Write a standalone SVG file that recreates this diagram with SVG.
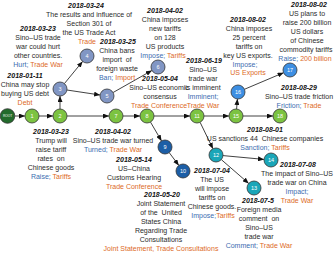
<svg xmlns="http://www.w3.org/2000/svg" width="334" height="254" viewBox="0 0 334 254">
<style>
text{font-family:"Liberation Sans",Arial,Helvetica,sans-serif;font-size:7px;fill:#2b2b2b;text-anchor:middle}
.d{font-weight:bold;font-style:italic;fill:#111}
.k{fill:#3d6db0}
.o{fill:#dd6a1f}
.n{font-size:5.5px;fill:#fff}
.r{font-size:3.2px;fill:#fff}
circle{stroke:#333;stroke-width:0.8}
.g{fill:#7cc341}
.s{fill:#8196c4}
.b{fill:#1c5ea6}
.c{fill:#1aa6b8}
.l{fill:#3d8fe3}
.e line{stroke:#111;stroke-width:0.8;marker-end:url(#ah)}
</style>
<defs>
<marker id="ah" markerUnits="userSpaceOnUse" markerWidth="6" markerHeight="5" refX="6" refY="2.5" orient="auto"><path d="M0,0 L6,2.5 L0,5 Z" fill="#111"/></marker>
</defs>
<g class="e" id="connectors">
<line x1="15" y1="116" x2="25" y2="116"/>
<line x1="39" y1="116" x2="53" y2="116"/>
<line x1="60" y1="109" x2="60" y2="96"/>
<line x1="67" y1="116" x2="109" y2="116"/>
<line x1="64.4" y1="83.6" x2="82.6" y2="61.4"/>
<line x1="66.9" y1="90" x2="100.1" y2="95"/>
<line x1="113.1" y1="92.5" x2="151.9" y2="70.5"/>
<line x1="123" y1="116" x2="140" y2="116"/>
<line x1="150.5" y1="122.1" x2="161.5" y2="140.9"/>
<line x1="169.2" y1="152.6" x2="178.8" y2="165.4"/>
<line x1="154" y1="116" x2="190" y2="116"/>
<line x1="200.1" y1="122.3" x2="212.9" y2="148.7"/>
<line x1="204" y1="116" x2="229" y2="116"/>
<line x1="223" y1="155.6" x2="264" y2="159.4"/>
<line x1="221.3" y1="159.6" x2="248.7" y2="183.4"/>
<line x1="236.6" y1="109" x2="237.4" y2="99"/>
<line x1="243" y1="116" x2="273" y2="116"/>
<line x1="244.4" y1="89.3" x2="283.6" y2="72.7"/>
</g>
<g id="root"><circle cx="7.5" cy="116" r="7.3" fill="#236b2c"/><text class="r" x="7.5" y="117.2">ROOT</text></g>
<g id="n1"><circle class="g" cx="32" cy="116" r="7"/><text class="n" x="32" y="118">1</text>
<text class="d" x="25" y="78">2018-01-11</text><text x="25" y="87">China may stop</text><text x="25" y="96">buying US debt</text><text class="o" x="25" y="105">Debt</text></g>
<g id="n2"><circle class="g" cx="60" cy="116" r="7"/><text class="n" x="60" y="118">2</text>
<text class="d" x="51" y="133.5">2018-03-23</text><text x="51" y="142.5">Trump will</text><text x="51" y="151.5">raise tariff</text><text x="51" y="160.5" xml:space="preserve">rates  on</text><text x="51" y="169.5">Chinese goods</text><text x="51" y="178.5"><tspan class="k">Raise;</tspan> <tspan class="o">Tariffs</tspan></text></g>
<g id="n3"><circle class="s" cx="60" cy="89" r="7"/><text class="n" x="60" y="91">3</text>
<text class="d" x="38" y="30.5">2018-03-23</text><text x="38" y="39.5">Sino–US trade</text><text x="38" y="48.5">war could hurt</text><text x="38" y="57.5">other countries.</text><text x="38" y="66.5"><tspan class="k">Hurt;</tspan> <tspan class="o">Trade War</tspan></text></g>
<g id="n4"><circle class="s" cx="87" cy="56" r="7"/><text class="n" x="87" y="58">4</text>
<text class="d" x="86" y="7.5">2018-03-24</text><text x="89" y="16.5">The results and influence of</text><text x="89" y="25.5">Section 301 of</text><text x="89" y="34.5">the US Trade Act</text><text class="o" x="87" y="43.5">Trade</text></g>
<g id="n5"><circle class="s" cx="107" cy="96" r="7"/><text class="n" x="107" y="98">5</text>
<text class="d" x="118" y="44">2018-03-25</text><text x="117" y="53">China bans</text><text x="117" y="62" xml:space="preserve">import  of</text><text x="117" y="71">foreign waste</text><text x="117" y="80"><tspan class="k">Ban;</tspan> <tspan class="o">Import</tspan></text></g>
<g id="n6"><circle class="s" cx="158" cy="67" r="7"/><text class="n" x="158" y="69">6</text>
<text class="d" x="165" y="12.5">2018-04-02</text><text x="165" y="21.5">China imposes</text><text x="165" y="30.5">new tariffs</text><text x="165" y="39.5">on 128</text><text x="165" y="48.5">US products</text><text x="163" y="57.5"><tspan class="k">Impose;</tspan> <tspan class="o">Tariffs</tspan></text></g>
<g id="n7"><circle class="g" cx="116" cy="116" r="7"/><text class="n" x="116" y="118">7</text>
<text class="d" x="113" y="133.5">2018-04-02</text><text x="113" y="142.5">Sino–US trade war turned</text><text x="113" y="151.5"><tspan class="k">Turned;</tspan> <tspan class="o">Trade War</tspan></text></g>
<g id="n8"><circle class="g" cx="147" cy="116" r="7"/><text class="n" x="147" y="118">8</text>
<text class="d" x="160" y="81">2018-05-04</text><text x="159" y="90">Sino–US economic</text><text x="160" y="99">consensus</text><text class="o" x="159" y="108">Trade Conference</text></g>
<g id="n9"><circle class="b" cx="165" cy="147" r="7"/><text class="n" x="165" y="149">9</text>
<text class="d" x="134" y="161.5">2018-05-14</text><text x="134" y="170.5">US–China</text><text x="134" y="179.5">Customs Hearing</text><text class="o" x="134" y="188.5">Trade Conference</text></g>
<g id="n10"><circle class="b" cx="183" cy="171" r="7"/><text class="n" x="183" y="173">10</text>
<text class="d" x="162" y="196.5">2018-05-20</text><text x="161" y="205.5">Joint Statement</text><text x="161" y="214.5" xml:space="preserve">of the  United</text><text x="161" y="223.5">States China</text><text x="161" y="232.5">Regarding Trade</text><text x="161" y="241.5">Consultations</text><text class="o" x="161" y="250.5">Joint Statement, Trade Consultations</text></g>
<g id="n11"><circle class="g" cx="197" cy="116" r="7"/><text class="n" x="197" y="118">11</text>
<text class="d" x="204" y="62.5">2018-06-19</text><text x="203" y="71.5">Sino–US</text><text x="203" y="80.5">trade war</text><text x="203" y="89.5">is imminent</text><text class="k" x="203" y="98.5">Imminent;</text><text class="o" x="203" y="107.5">Trade War</text></g>
<g id="n12"><circle class="c" cx="216" cy="155" r="7"/><text class="n" x="216" y="157">12</text>
<text class="d" x="212" y="172.5">2018-07-04</text><text x="212" y="181.5">The US</text><text x="212" y="190.5">will impose</text><text x="212" y="199.5">tariffs on</text><text x="212" y="208.5">Chinese goods.</text><text x="213" y="217.5"><tspan class="k">Impose;</tspan><tspan class="o">Tariffs</tspan></text></g>
<g id="n13"><circle class="c" cx="254" cy="188" r="7"/><text class="n" x="254" y="190">13</text>
<text class="d" x="258" y="202.5">2018-07-5</text><text x="259" y="211.5">Foreign media</text><text x="259" y="220.5" xml:space="preserve">comment  on</text><text x="259" y="229.5">Sino–US</text><text x="259" y="238.5">trade war</text><text x="259" y="247.5"><tspan class="k">Comment;</tspan> <tspan class="o">Trade War</tspan></text></g>
<g id="n14"><circle class="c" cx="271" cy="160" r="7"/><text class="n" x="271" y="162">14</text>
<text class="d" x="298" y="166.5">2018-07-08</text><text x="297" y="175.5">The impact of Sino–US</text><text x="297" y="184.5">trade war on China</text><text class="k" x="297" y="193.5">Impact;</text><text class="o" x="297" y="202.5">Trade War</text></g>
<g id="n15"><circle class="g" cx="236" cy="116" r="7"/><text class="n" x="236" y="118">15</text>
<text class="d" x="265" y="131.5">2018-08-01</text><text x="265" y="140.5" xml:space="preserve">US sanctions 44  Chinese companies</text><text x="265" y="149.5"><tspan class="k">Sanction;</tspan> <tspan class="o">Tariffs</tspan></text></g>
<g id="n16"><circle class="l" cx="238" cy="92" r="7"/><text class="n" x="238" y="94">16</text>
<text class="d" x="248" y="21.5">2018-08-02</text><text x="249" y="30.5">China imposes</text><text x="249" y="39.5">25 percent</text><text x="249" y="48.5">tariffs on</text><text x="248" y="57.5">key US exports.</text><text class="k" x="245" y="66.5">Impose;</text><text class="o" x="248" y="75">US Exports</text></g>
<g id="n17"><circle class="l" cx="290" cy="70" r="7"/><text class="n" x="290" y="72">17</text>
<text class="d" x="309" y="7">2018-08-02</text><text x="307" y="16">US plans to</text><text x="307" y="25">raise 200 billion</text><text x="307" y="34">US dollars</text><text x="307" y="43">of Chinese</text><text x="306" y="52">commodity tariffs</text><text x="305" y="61"><tspan class="k">Raise;</tspan> <tspan class="o">200 billion</tspan></text></g>
<g id="n18"><circle class="g" cx="280" cy="116" r="7"/><text class="n" x="280" y="118">18</text>
<text class="d" x="299" y="89.5">2018-08-29</text><text x="299" y="98.5">Sino–US trade friction</text><text x="299" y="107.5"><tspan class="k">Friction;</tspan> <tspan class="o">Trade</tspan></text></g>
</svg>
